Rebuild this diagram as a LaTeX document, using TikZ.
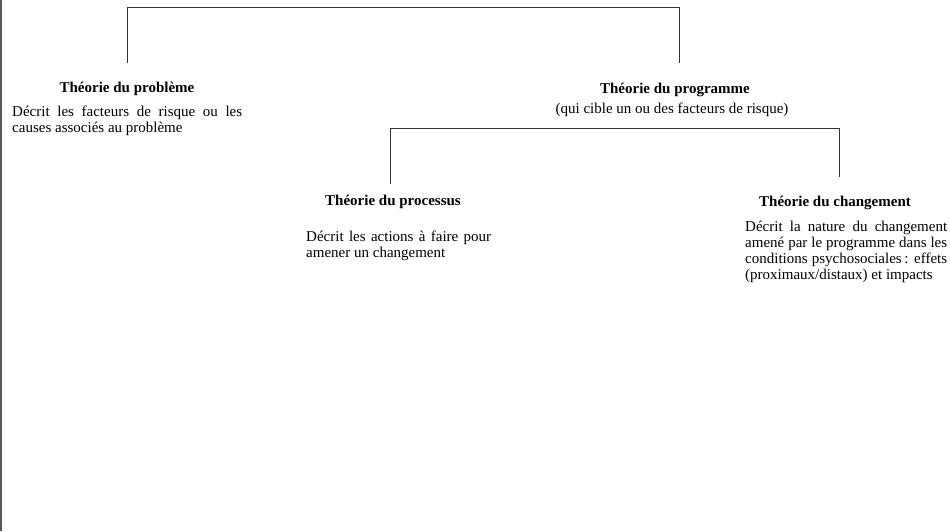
\documentclass[tikz,border=0pt]{standalone}
\usepackage{fontspec}
\setmainfont{Liberation Serif}
\begin{document}
\begin{tikzpicture}[x=1pt,y=-1pt,
  conn/.style={draw=black!80,line width=0.8pt},
  ttl/.style={inner sep=0pt,anchor=base,font=\fontsize{15}{16.5}\selectfont\bfseries},
  sub/.style={inner sep=0pt,anchor=base,font=\fontsize{15}{16.5}\selectfont},
  desc/.style={inner sep=0pt,anchor=north west,align=justify,font=\fontsize{15}{16}\selectfont}]
\useasboundingbox (0,0) rectangle (950,531);
\fill[white] (0,0) rectangle (950,531);
% left border line
\draw[draw=black!65,line width=1.5pt] (0.75,0) -- (0.75,531);
% titles
\node[ttl] (prob) at (127,92) {Théorie du problème};
\node[ttl] (prog) at (675,93) {Théorie du programme};
\node[sub] (progsub) at (672,113) {(qui cible un ou des facteurs de risque)};
\node[ttl] (proc) at (393,205) {Théorie du processus};
\node[ttl] (chg) at (835,206) {Théorie du changement};
% descriptions
\node[desc,text width=230pt] (probd) at (12,105.5) {Décrit les facteurs de risque ou les\linebreak causes associés au problème};
\node[desc,text width=185pt] (procd) at (306,230.5) {Décrit les actions à faire pour\linebreak amener un changement};
\node[desc,text width=202pt] (chgd) at (745,220.5) {Décrit la nature du changement\linebreak amené par le programme dans les\linebreak conditions psychosociales\,: effets\linebreak (proximaux/distaux) et impacts};
% brackets
\coordinate (b1l) at (127,63);
\coordinate (b1r) at (679,63);
\coordinate (b1y) at (0,7);
\draw[conn] (b1l) |- (b1y -| b1r) -- (b1r);
\coordinate (b2l) at (390,184);
\coordinate (b2r) at (839,177);
\coordinate (b2y) at (0,128);
\draw[conn] (b2l) |- (b2y -| b2r) -- (b2r);
\end{tikzpicture}
\end{document}
